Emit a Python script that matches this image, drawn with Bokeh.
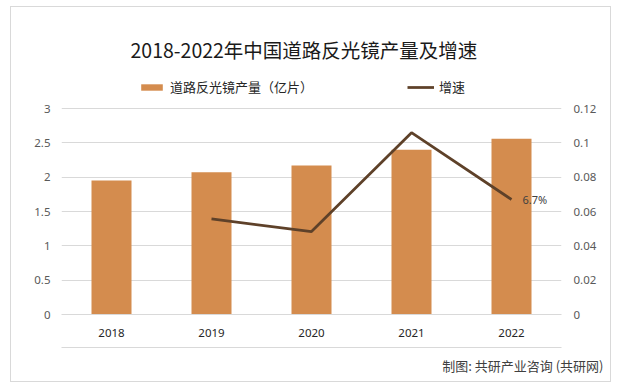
from bokeh.plotting import figure
from bokeh.models import (ColumnDataSource, FactorRange, Range1d, LinearAxis, FixedTicker,
                          CustomJSTickFormatter, Legend, LegendItem, Title)
from bokeh.core.properties import value
from bokeh.embed import file_html
from bokeh.resources import INLINE

years = ["2018", "2019", "2020", "2021", "2022"]
output = [1.95, 2.07, 2.17, 2.40, 2.56]
rate_years = ["2019", "2020", "2021", "2022"]
rate = [0.0557, 0.0483, 0.1059, 0.067]
rate_labels = ["", "", "", "6.7%"]
left_ticks = [0, 0.5, 1, 1.5, 2, 2.5, 3]
right_ticks = [0, 0.02, 0.04, 0.06, 0.08, 0.1, 0.12]

title_text = "2018-2022年中国道路反光镜产量及增速"
bar_name = "道路反光镜产量（亿片）"
line_name = "增速"
footer_text = "制图: 共研产业咨询 (共研网)"

FONT = "Noto Sans CJK SC"
NUMFONT = "Noto Sans"

# frame: 500 x 239 px; axis tops (3 and 0.12) sit 206 px above the baseline,
# the extra headroom holds the legend inside the frame
HEAD = 239 / 206
p = figure(width=601, height=376, x_range=FactorRange(*years), y_range=Range1d(0, 3 * HEAD),
           output_backend="svg", toolbar_location=None,
           min_border_left=50, min_border_right=51, min_border_top=68, min_border_bottom=69,
           styles={"margin-left": "10px", "margin-top": "6px", "border": "1px solid #d9d9d9"})
p.extra_y_ranges = {"rate": Range1d(0, 0.12 * HEAD)}
p.outline_line_color = None
p.background_fill_color = "white"
p.border_fill_color = "white"

fmt = CustomJSTickFormatter(code="return String(Math.round(tick*100)/100);")

ya = p.yaxis[0]
ya.ticker = FixedTicker(ticks=left_ticks)
ya.formatter = fmt
ya.axis_line_color = None
ya.major_tick_line_color = None
ya.minor_tick_line_color = None
ya.major_tick_out = 0
ya.major_label_standoff = 11
ya.major_label_text_font = NUMFONT
ya.major_label_text_font_size = "11.5px"
ya.major_label_text_color = "#595959"

ra = LinearAxis(y_range_name="rate", ticker=FixedTicker(ticks=right_ticks), formatter=fmt)
ra.axis_line_color = None
ra.major_tick_line_color = None
ra.minor_tick_line_color = None
ra.major_tick_out = 0
ra.major_label_standoff = 12
ra.major_label_text_font = NUMFONT
ra.major_label_text_font_size = "11.5px"
ra.major_label_text_color = "#595959"
p.add_layout(ra, "right")

xa = p.xaxis[0]
xa.axis_line_color = "#d9d9d9"
xa.major_tick_line_color = None
xa.minor_tick_line_color = None
xa.major_tick_out = 0
xa.major_label_standoff = 14
xa.major_label_text_font = NUMFONT
xa.major_label_text_font_size = "11.5px"
xa.major_label_text_color = "#262626"

p.xgrid.grid_line_color = None
p.ygrid.grid_line_color = "#d9d9d9"
p.ygrid.ticker = FixedTicker(ticks=left_ticks)

bar_src = ColumnDataSource(dict(x=years, y=output))
bars = p.vbar(x="x", top="y", width=0.4, source=bar_src, fill_color="#D48C4E", line_color=None)

line_src = ColumnDataSource(dict(x=rate_years, y=rate, lab=rate_labels))
ln = p.line(x="x", y="y", source=line_src, y_range_name="rate", line_color="#5E4129", line_width=2.75)
p.text(x="x", y="y", text="lab", source=line_src, y_range_name="rate", x_offset=11,
       text_baseline="middle", text_align="left", text_font_size="11px",
       text_color="#404040", text_font=value(NUMFONT))

leg = Legend(items=[LegendItem(label=bar_name, renderers=[bars]),
                    LegendItem(label=line_name, renderers=[ln])],
             location=(77, 218), orientation="horizontal", glyph_width=27, glyph_height=8,
             label_standoff=5, spacing=94, padding=0, margin=0,
             border_line_color=None, background_fill_alpha=0,
             label_text_font=FONT, label_text_font_size="13px", label_text_color="#262626")
p.add_layout(leg, "center")

p.title = Title(text=title_text, align="left", offset=69, text_font=FONT,
                text_font_size="19.5px", text_font_style="normal", text_color="#1a1a1a",
                standoff=23)

# spacer + footer separator line below the category axis
spacer = LinearAxis(major_label_text_font_size="0px", major_tick_line_color=None,
                    minor_tick_line_color=None, axis_line_color=None,
                    major_label_standoff=0, major_tick_out=8)
spacer.major_label_text_color = None
p.add_layout(spacer, "below")
sep = LinearAxis(major_label_text_font_size="0px", major_tick_line_color=None,
                 minor_tick_line_color=None, axis_line_color="#d9d9d9",
                 major_label_standoff=0, major_tick_out=0)
sep.major_label_text_color = None
p.add_layout(sep, "below")

p.add_layout(Title(text=footer_text, align="right", offset=-42, text_font=FONT,
                   text_font_size="13px", text_font_style="normal", text_color="#404040",
                   standoff=4), "below")

open("out.html", "w").write(file_html(p, INLINE))
